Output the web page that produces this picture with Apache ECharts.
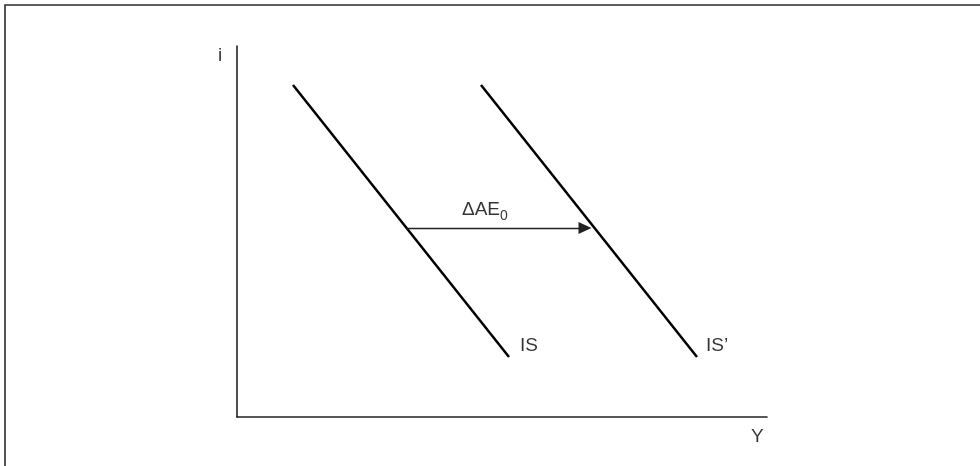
<!DOCTYPE html>
<html>
<head>
<meta charset="utf-8" />
<title>IS shift</title>
<style type="text/css">
	html, body { margin: 0; padding: 0; background: #fff; }
	#chart { width: 980px; height: 466px; }
</style>
</head>
<body>
<div id="chart"></div>
<script src="https://cdn.jsdelivr.net/npm/echarts@6/dist/echarts.min.js"></script>
<script>
// curve endpoints, in axis units (Y across, i up)
var isCurve = [[56, 332], [272, 60]];
var isShifted = [[244, 332], [460, 60]];
// the shift of autonomous spending (end = centre of the arrow head)
var shiftArrow = [[170, 189], [348, 189]];
// text labels: [Y, i, text]
var labels = [
	[-19, 361, 'i'],
	[514, -19.5, 'Y'],
	[283, 71.5, 'IS'],
	[469, 71.5, 'IS\u2019'],
	[225, 207, '{a|\u0394AE}{b|0}']
];
var xMax = 530, yMax = 371;

var font = 'Arial, "Liberation Sans", sans-serif';
var myChart = echarts.init(document.getElementById('chart'));

var option = {
	animation: false,
	backgroundColor: '#fff',
	graphic: [{
		type: 'rect',
		shape: { x: 5, y: 5, width: 1000, height: 500 },
		style: { fill: 'none', stroke: '#2a2a2a', lineWidth: 1.6 },
		z: -1
	}],
	grid: { left: 237, top: 46, right: 213, bottom: 49 },
	xAxis: {
		type: 'value', min: 0, max: xMax,
		axisLine: { show: true, lineStyle: { color: '#222', width: 1.6 } },
		axisTick: { show: false }, axisLabel: { show: false }, splitLine: { show: false }
	},
	yAxis: {
		type: 'value', min: 0, max: yMax,
		axisLine: { show: true, lineStyle: { color: '#222', width: 1.6 } },
		axisTick: { show: false }, axisLabel: { show: false }, splitLine: { show: false }
	},
	series: [{
		name: 'IS', type: 'line', data: isCurve, symbol: 'none',
		lineStyle: { color: '#000', width: 2.5 },
		markLine: {
			silent: true,
			symbol: ['none', 'triangle'],
			symbolSize: [12, 13],
			label: { show: false },
			itemStyle: { color: '#000' },
			lineStyle: { color: '#222', width: 1.3, type: 'solid' },
			data: [[{ coord: shiftArrow[0] }, { coord: shiftArrow[1] }]]
		}
	}, {
		name: "IS'", type: 'line', data: isShifted, symbol: 'none',
		lineStyle: { color: '#000', width: 2.5 }
	}, {
		type: 'scatter', clip: false, symbolSize: 0, silent: true,
		data: labels.map(function(l) { return { value: [l[0], l[1]], name: l[2] }; }),
		label: {
			show: true, position: 'inside', align: 'left', verticalAlign: 'middle',
			formatter: function(p) { return p.name; },
			color: '#000', fontFamily: font, fontSize: 19,
			rich: {
				a: { fontFamily: font, fontSize: 19, lineHeight: 22, color: '#000' },
				b: { fontFamily: font, fontSize: 14, lineHeight: 14, padding: [12, 0, 0, 0], color: '#000' }
			}
		}
	}]
};
myChart.setOption(option);
</script>
</body>
</html>
